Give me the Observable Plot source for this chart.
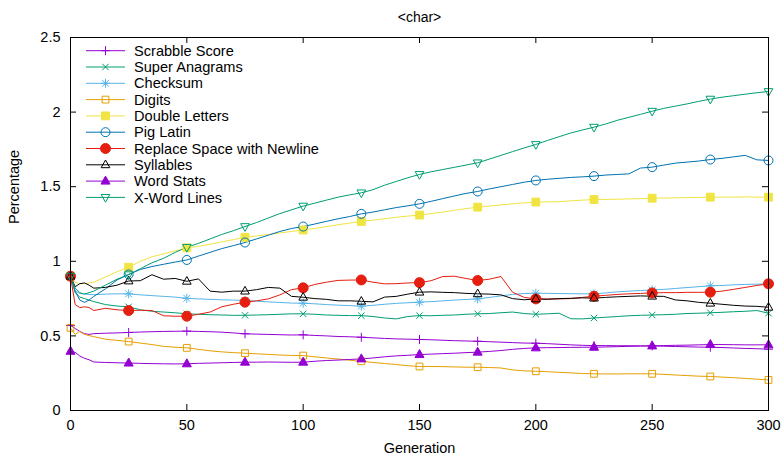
<!DOCTYPE html>
<html><head><meta charset="utf-8">
<script src="https://cdn.jsdelivr.net/npm/d3@7"></script>
<script src="https://cdn.jsdelivr.net/npm/@observablehq/plot@0.6"></script>
<style>body{margin:0;background:#fff;}</style>
</head><body><div id="chart"></div>
<script>
const generations = [0,2,4,6,8,10,
  15,20,25,30,35,40,45,50,
  55,60,65,70,75,80,85,90,95,100,
  105,110,115,120,125,130,135,140,145,150,
  155,160,165,170,175,180,185,190,195,200,
  205,210,215,220,225,230,235,240,245,250,
  255,260,265,270,275,280,285,290,295,300];

const scrabbleScore = [0.57,0.55,0.53,0.515,0.51,0.515,
  0.518,0.52,0.523,0.526,0.528,0.53,0.531,0.532,
  0.53,0.528,0.525,0.52,0.514,0.512,0.51,0.508,0.506,0.507,
  0.503,0.5,0.496,0.494,0.491,0.487,0.483,0.48,0.478,0.476,
  0.474,0.471,0.468,0.466,0.464,0.461,0.458,0.455,0.452,0.451,
  0.448,0.444,0.44,0.437,0.435,0.435,0.434,0.434,0.433,0.433,
  0.431,0.429,0.427,0.425,0.424,0.422,0.419,0.416,0.414,0.411];
const superAnagrams = [0.9,0.79,0.76,0.75,0.74,0.73,
  0.71,0.7,0.695,0.675,0.665,0.66,0.655,0.648,
  0.645,0.642,0.64,0.638,0.638,0.64,0.642,0.645,0.648,0.648,
  0.645,0.64,0.638,0.636,0.636,0.63,0.62,0.614,0.63,0.636,
  0.635,0.638,0.64,0.645,0.648,0.65,0.655,0.66,0.65,0.645,
  0.648,0.652,0.615,0.614,0.62,0.625,0.63,0.635,0.638,0.64,
  0.642,0.645,0.65,0.652,0.655,0.658,0.662,0.665,0.67,0.652];
const checksum = [0.9,0.8,0.785,0.78,0.778,0.776,
  0.78,0.782,0.782,0.775,0.77,0.765,0.76,0.752,
  0.748,0.745,0.742,0.74,0.737,0.733,0.728,0.724,0.72,0.719,
  0.715,0.71,0.706,0.703,0.699,0.705,0.712,0.718,0.722,0.726,
  0.73,0.735,0.74,0.744,0.748,0.758,0.768,0.778,0.784,0.786,
  0.785,0.784,0.783,0.782,0.782,0.788,0.795,0.8,0.804,0.808,
  0.812,0.818,0.824,0.83,0.836,0.838,0.842,0.845,0.847,0.849];
const digits = [0.554,0.51,0.53,0.51,0.502,0.495,
  0.478,0.47,0.462,0.452,0.442,0.43,0.424,0.42,
  0.41,0.4,0.393,0.388,0.384,0.38,0.376,0.372,0.369,0.368,
  0.36,0.352,0.345,0.337,0.33,0.322,0.315,0.308,0.3,0.295,
  0.295,0.294,0.292,0.29,0.29,0.288,0.285,0.272,0.266,0.263,
  0.26,0.256,0.252,0.248,0.246,0.245,0.245,0.246,0.246,0.246,
  0.242,0.238,0.234,0.23,0.228,0.224,0.22,0.215,0.21,0.205];
const doubleLetters = [0.9,0.86,0.85,0.85,0.855,0.86,
  0.895,0.93,0.96,1.0,1.03,1.05,1.07,1.09,
  1.1,1.115,1.13,1.145,1.161,1.17,1.18,1.19,1.2,1.21,
  1.22,1.232,1.245,1.256,1.267,1.276,1.285,1.295,1.303,1.31,
  1.32,1.33,1.342,1.353,1.363,1.37,1.378,1.385,1.392,1.397,
  1.398,1.4,1.405,1.41,1.414,1.415,1.416,1.418,1.42,1.423,
  1.424,1.425,1.427,1.428,1.43,1.43,1.43,1.432,1.43,1.43];
const pigLatin = [0.9,0.8,0.74,0.725,0.74,0.765,
  0.815,0.875,0.912,0.945,0.965,0.98,0.995,1.009,
  1.035,1.06,1.085,1.105,1.126,1.15,1.175,1.2,1.22,1.233,
  1.25,1.268,1.285,1.3,1.318,1.33,1.345,1.36,1.372,1.385,
  1.402,1.42,1.438,1.455,1.468,1.485,1.5,1.515,1.53,1.542,
  1.55,1.556,1.562,1.566,1.571,1.578,1.582,1.586,1.625,1.631,
  1.645,1.658,1.665,1.672,1.682,1.69,1.7,1.71,1.68,1.676];
const replaceSpace = [0.9,0.71,0.69,0.695,0.69,0.67,
  0.685,0.675,0.67,0.672,0.67,0.635,0.632,0.632,
  0.645,0.66,0.695,0.712,0.726,0.735,0.748,0.775,0.81,0.822,
  0.845,0.86,0.872,0.874,0.875,0.86,0.849,0.85,0.855,0.857,
  0.87,0.898,0.9,0.885,0.871,0.88,0.898,0.793,0.758,0.748,
  0.748,0.748,0.75,0.758,0.766,0.772,0.778,0.782,0.785,0.788,
  0.79,0.79,0.792,0.792,0.793,0.8,0.812,0.825,0.838,0.849];
const syllables = [0.9,0.83,0.85,0.855,0.84,0.82,
  0.825,0.84,0.868,0.87,0.91,0.88,0.885,0.866,
  0.882,0.8,0.793,0.8,0.8,0.81,0.825,0.82,0.765,0.759,
  0.75,0.745,0.735,0.735,0.732,0.728,0.76,0.765,0.78,0.793,
  0.795,0.792,0.79,0.785,0.782,0.78,0.775,0.75,0.742,0.748,
  0.745,0.75,0.752,0.755,0.753,0.758,0.762,0.765,0.768,0.766,
  0.765,0.741,0.735,0.725,0.719,0.712,0.705,0.7,0.698,0.692];
const wordStats = [0.397,0.39,0.365,0.35,0.34,0.325,
  0.322,0.32,0.318,0.316,0.314,0.313,0.312,0.313,
  0.316,0.318,0.32,0.322,0.324,0.324,0.325,0.324,0.323,0.324,
  0.33,0.335,0.338,0.342,0.346,0.352,0.36,0.366,0.37,0.375,
  0.378,0.381,0.384,0.388,0.391,0.396,0.402,0.41,0.416,0.42,
  0.421,0.422,0.423,0.424,0.424,0.426,0.428,0.43,0.432,0.433,
  0.435,0.437,0.438,0.44,0.442,0.442,0.441,0.44,0.44,0.44];
const xWordLines = [0.9,0.82,0.79,0.78,0.79,0.8,
  0.84,0.88,0.91,0.95,0.99,1.02,1.06,1.094,
  1.12,1.15,1.18,1.205,1.233,1.26,1.29,1.32,1.345,1.37,
  1.39,1.41,1.43,1.445,1.459,1.48,1.51,1.535,1.56,1.582,
  1.6,1.615,1.63,1.645,1.66,1.685,1.71,1.735,1.76,1.783,
  1.81,1.835,1.86,1.88,1.899,1.92,1.945,1.965,1.985,2.006,
  2.025,2.04,2.055,2.072,2.087,2.1,2.11,2.12,2.13,2.138];

const seriesNames = ["Scrabble Score","Super Anagrams","Checksum","Digits","Double Letters",
  "Pig Latin","Replace Space with Newline","Syllables","Word Stats","X-Word Lines"];
const xTicks = [0,50,100,150,200,250,300];
const yTicks = [0,0.5,1,1.5,2,2.5];
const titleText = "<char>";
const xLabel = "Generation";
const yLabel = "Percentage";

// styles
const seriesColors = ["#9400d3","#009e73","#56b4e9","#e69f00","#f0e442","#0072b2","#e51e10","#000000","#9400d3","#009e73"];
const symbolKinds = ["plus","times","asterisk","square","square","circle","circle","triangle","triangle","triangleDown"];
const symbolFilled = [false,false,false,false,true,false,true,false,true,false];
const symbolRadius = [4.5,4,4.5,4,4.6,4.5,5,4.8,5,4.8];
const fontStack = "'Liberation Sans', Arial, sans-serif";

const W = 784, H = 462, mL = 70, mR = 16, mT = 37, mB = 52, tickLen = 6;
const frameW = W - mL - mR, frameH = H - mT - mB;

const seriesValues = [scrabbleScore,superAnagrams,checksum,digits,doubleLetters,pigLatin,replaceSpace,syllables,wordStats,xWordLines];

function makeSymbol(kind, r) {
  return {draw(c) {
    const a = r * 0.75;
    if (kind === "plus" || kind === "asterisk") {
      c.moveTo(-r,0); c.lineTo(r,0); c.moveTo(0,-r); c.lineTo(0,r);
    }
    if (kind === "times" || kind === "asterisk") {
      const b = kind === "times" ? r*0.8 : a;
      c.moveTo(-b,-b); c.lineTo(b,b); c.moveTo(-b,b); c.lineTo(b,-b);
    }
    if (kind === "square") {
      const s = r*0.85;
      c.moveTo(-s,-s); c.lineTo(s,-s); c.lineTo(s,s); c.lineTo(-s,s); c.closePath();
    }
    if (kind === "circle") {
      c.moveTo(r,0); c.arc(0,0,r,0,2*Math.PI); c.closePath();
    }
    if (kind === "triangle") {
      c.moveTo(0,-r); c.lineTo(r*0.9,r*0.6); c.lineTo(-r*0.9,r*0.6); c.closePath();
    }
    if (kind === "triangleDown") {
      c.moveTo(0,r); c.lineTo(r*0.9,-r*0.6); c.lineTo(-r*0.9,-r*0.6); c.closePath();
    }
  }};
}

const table = [];
seriesNames.forEach((name, i) => generations.forEach((g, j) => table.push({series: name, gen: g, value: seriesValues[i][j]})));

const marks = [];
seriesNames.forEach((name, i) => {
  const rows = table.filter(d => d.series === name);
  marks.push(Plot.line(rows, {x: "gen", y: "value", stroke: seriesColors[i], strokeWidth: 1}));
});
seriesNames.forEach((name, i) => {
  const rows = table.filter(d => d.series === name && d.gen % 25 === 0);
  marks.push(Plot.dot(rows, {x: "gen", y: "value", r: symbolRadius[i],
    symbol: makeSymbol(symbolKinds[i], symbolRadius[i]),
    stroke: seriesColors[i], strokeWidth: 1,
    fill: symbolFilled[i] ? seriesColors[i] : "none"}));
});
// inward ticks on all four sides
marks.push(Plot.ruleX(xTicks, {x: d => d, stroke: "#000", strokeWidth: 1, insetTop: frameH - tickLen}));
marks.push(Plot.ruleX(xTicks, {x: d => d, stroke: "#000", strokeWidth: 1, insetBottom: frameH - tickLen}));
marks.push(Plot.ruleY(yTicks, {y: d => d, stroke: "#000", strokeWidth: 1, insetRight: frameW - tickLen}));
marks.push(Plot.ruleY(yTicks, {y: d => d, stroke: "#000", strokeWidth: 1, insetLeft: frameW - tickLen}));
marks.push(Plot.frame({stroke: "black", strokeWidth: 1}));
marks.push(Plot.text([xLabel], {frameAnchor: "bottom", dy: 42, fontSize: 14.5}));
marks.push(Plot.text([yLabel], {frameAnchor: "left", dx: -56, rotate: -90, fontSize: 14.5}));
marks.push(Plot.text([titleText], {frameAnchor: "top", dy: -25, fontSize: 14}));

const chart = Plot.plot({
  width: W, height: H,
  marginLeft: mL, marginRight: mR, marginTop: mT, marginBottom: mB,
  style: {fontFamily: fontStack, fontSize: "14.5px", background: "#fff", color: "#000"},
  x: {domain: [0, 300], ticks: xTicks, tickSize: 0, tickPadding: 9, tickFormat: d => String(d), label: null},
  y: {domain: [0, 2.5], ticks: yTicks, tickSize: 0, tickPadding: 10, tickFormat: d => String(d), label: null},
  marks
});
document.getElementById("chart").appendChild(chart);

// legend
const svgSel = d3.select(chart);
const lg = svgSel.append("g").attr("font-family", fontStack).attr("font-size", 14.6).attr("text-anchor", "start");
seriesNames.forEach((name, i) => {
  const ly = 50.7 + 16.3 * i;
  lg.append("line").attr("x1", 86).attr("x2", 125).attr("y1", ly).attr("y2", ly)
    .attr("stroke", seriesColors[i]).attr("stroke-width", 1);
  const p = d3.path();
  makeSymbol(symbolKinds[i], symbolRadius[i]).draw(p);
  lg.append("path").attr("d", p.toString()).attr("transform", `translate(105.5,${ly})`)
    .attr("stroke", seriesColors[i]).attr("fill", symbolFilled[i] ? seriesColors[i] : "none");
  lg.append("text").attr("x", 134).attr("y", ly).attr("dy", "0.35em").attr("text-anchor", "start").attr("fill", "#000").text(name);
});
</script>
</body></html>
